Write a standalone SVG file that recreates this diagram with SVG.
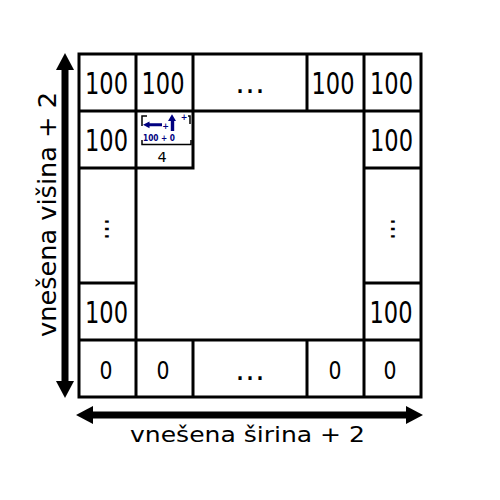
<svg xmlns="http://www.w3.org/2000/svg" width="500" height="500" viewBox="0 0 500 500">
<style>
.grid{stroke:#000;stroke-width:3;fill:none;stroke-linecap:square}
.num{font-family:"DejaVu Sans",sans-serif;font-size:30px;fill:#000;text-anchor:middle}
.zero{font-family:"DejaVu Sans",sans-serif;font-size:25px;fill:#000;text-anchor:middle}
.dots{font-family:"DejaVu Sans",sans-serif;font-size:30px;fill:#000;text-anchor:middle}
.lbl{font-family:"DejaVu Sans",sans-serif;fill:#000;text-anchor:middle}
.dim{stroke:#000;stroke-width:7;fill:none}
.ic{fill:#000080}
.br{stroke:#000;stroke-width:1.5;fill:none}
</style>
<defs>
<marker id="ah" markerUnits="userSpaceOnUse" markerWidth="18" markerHeight="20" refX="0" refY="10" orient="auto-start-reverse">
<path d="M0,1 L17,10 L0,19 z" fill="#000"/>
</marker>
</defs>
<rect width="500" height="500" fill="#fff"/>
<g id="grid">
<path class="grid" d="M79,54 H421 M79,111 H421 M79,168 H193 M364,168 H421 M79,283 H136 M364,283 H421 M79,340 H421 M79,397 H421 M79,54 V397 M136,54 V397 M193,54 V168 M193,340 V397 M307,54 V111 M307,340 V397 M364,54 V397 M421,54 V397"/>
</g>
<g id="row1">
<text class="num" x="106.5" y="94" textLength="43" lengthAdjust="spacingAndGlyphs">100</text>
<text class="num" x="163" y="94" textLength="43" lengthAdjust="spacingAndGlyphs">100</text>
<text class="dots" x="250" y="93">…</text>
<text class="num" x="333" y="94" textLength="43" lengthAdjust="spacingAndGlyphs">100</text>
<text class="num" x="391.5" y="94" textLength="43" lengthAdjust="spacingAndGlyphs">100</text>
</g>
<g id="row2">
<text class="num" x="106.5" y="150.5" textLength="43" lengthAdjust="spacingAndGlyphs">100</text>
<text class="num" x="391.5" y="150.5" textLength="43" lengthAdjust="spacingAndGlyphs">100</text>
</g>
<g id="start-cell">
<path class="br" d="M147,116 H142 V126 M188,116 H190 V124 M142,140 V144.5 H191 V140"/>
<path class="ic" d="M143,124.8 L149.5,121.5 V123.3 H162 V126.3 H149.5 V128.2 z"/>
<path class="ic" d="M172,114.3 L176,121 H174.2 V131 H170.8 V121 H168 z"/>
<text x="165.5" y="128.5" style="font-family:'DejaVu Sans',sans-serif;font-size:8px;font-weight:bold;fill:#000080;text-anchor:middle">+</text>
<text x="184" y="120" style="font-family:'DejaVu Sans',sans-serif;font-size:8px;font-weight:bold;fill:#000080;text-anchor:middle">+</text>
<text x="159" y="140.5" textLength="32" lengthAdjust="spacingAndGlyphs" style="font-family:'DejaVu Sans',sans-serif;font-size:8px;font-weight:bold;fill:#000080;text-anchor:middle">100 + 0</text>
<text x="162" y="162.3" style="font-family:'DejaVu Sans',sans-serif;font-size:14.5px;fill:#000;text-anchor:middle">4</text>
</g>
<g id="row3">
<text class="dots" transform="translate(107,229) rotate(90)" x="0" y="2" textLength="22" lengthAdjust="spacingAndGlyphs">…</text>
<text class="dots" transform="translate(393,229) rotate(90)" x="0" y="2" textLength="22" lengthAdjust="spacingAndGlyphs">…</text>
</g>
<g id="row4">
<text class="num" x="106.5" y="322.5" textLength="43" lengthAdjust="spacingAndGlyphs">100</text>
<text class="num" x="391" y="322.5" textLength="43" lengthAdjust="spacingAndGlyphs">100</text>
</g>
<g id="row5">
<text class="zero" x="106" y="379" textLength="13" lengthAdjust="spacingAndGlyphs">0</text>
<text class="zero" x="163" y="379" textLength="13" lengthAdjust="spacingAndGlyphs">0</text>
<text class="dots" x="250" y="380">…</text>
<text class="zero" x="335" y="379" textLength="13" lengthAdjust="spacingAndGlyphs">0</text>
<text class="zero" x="390" y="379" textLength="13" lengthAdjust="spacingAndGlyphs">0</text>
</g>
<g id="connectors">
<line class="dim" x1="65" y1="70" x2="65" y2="381" marker-start="url(#ah)" marker-end="url(#ah)"/>
<line class="dim" x1="93" y1="415" x2="406" y2="415" marker-start="url(#ah)" marker-end="url(#ah)"/>
</g>
<g id="labels">
<text class="lbl" x="247.5" y="442" style="font-size:21px" textLength="235" lengthAdjust="spacingAndGlyphs">vnešena širina + 2</text>
<text class="lbl" transform="translate(56,214.5) rotate(-90)" x="0" y="0" style="font-size:25px" textLength="245" lengthAdjust="spacingAndGlyphs">vnešena višina + 2</text>
</g>
</svg>
